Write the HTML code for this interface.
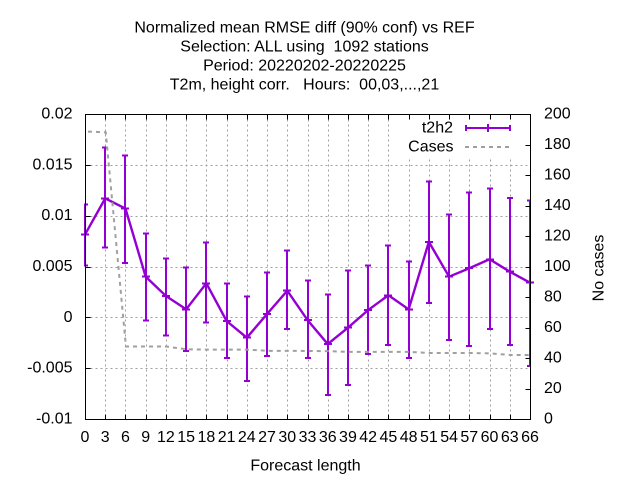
<!DOCTYPE html>
<html>
<head>
<meta charset="utf-8">
<title>Normalized mean RMSE diff</title>
<style>
html,body{margin:0;padding:0;background:#fff;width:640px;height:480px;overflow:hidden}
svg{display:block}
text{font-family:"Liberation Sans",sans-serif;font-size:16px;fill:#000}
</style>
</head>
<body>
<svg id="chart" xmlns="http://www.w3.org/2000/svg" width="640" height="480" viewBox="0 0 640 480">
  <rect x="0" y="0" width="640" height="480" fill="#fff"/>
  <g text-anchor="middle">
    <text x="304.5" y="32.5">Normalized mean RMSE diff (90% conf) vs REF</text>
    <text x="304.5" y="51.5" xml:space="preserve">Selection: ALL using  1092 stations</text>
    <text x="304.5" y="70.5">Period: 20220202-20220225</text>
    <text x="304.5" y="89.5" xml:space="preserve">T2m, height corr.   Hours:  00,03,...,21</text>
  </g>
  <g id="grid"></g>
  <rect x="395" y="115" width="135" height="42" fill="#fff"/>
  <g id="rmse-layer"></g>
  <g id="cases-layer"></g>
  <g id="axes"></g>
  <g>
    <g>
      <text x="453" y="132.5" text-anchor="end">t2h2</text>
      <path d="M466 128H510M466 125V131M510 125V131M488 124V132" stroke="#9400d3" stroke-width="2" fill="none" shape-rendering="crispEdges"/>
    </g>
    <g>
      <text x="453.5" y="151.5" text-anchor="end">Cases</text>
      <path d="M465 147H510" stroke="#a0a0a0" stroke-width="2" stroke-dasharray="4,4" fill="none" shape-rendering="crispEdges"/>
    </g>
  </g>
  <text x="305.5" y="470.5" text-anchor="middle">Forecast length</text>
  <text x="0" y="0" text-anchor="middle" transform="translate(603.5 268) rotate(-90)">No cases</text>
</svg>
<script>
const hours = [0,3,6,9,12,15,18,21,24,27,30,33,36,39,42,45,48,51,54,57,60,63,66];
const meanValues = [0.00814,0.0117,0.0107,0.0040,0.0021,0.00079,0.00335,-0.00036,-0.0020,0.00033,0.00262,-0.00027,-0.00263,-0.00102,0.00072,0.00217,0.00079,0.00742,0.0040,0.00483,0.00571,0.00449,0.00341];
const upperValues = [0.0111,0.0167,0.0159,0.00824,0.00577,0.00489,0.00735,0.00331,0.00203,0.0044,0.00656,0.0036,0.00223,0.0046,0.0051,0.00706,0.00548,0.01336,0.0101,0.01228,0.01267,0.01175,0.01149];
const lowerValues = [0.0051,0.00686,0.00535,-0.00033,-0.0018,-0.0033,-0.00053,-0.0040,-0.00625,-0.0038,-0.00115,-0.0040,-0.00765,-0.00667,-0.0036,-0.00273,-0.0040,0.00141,-0.00224,-0.00283,-0.00115,-0.00273,-0.0048];
const casesValues = [188.5,188,47.5,47.5,47.5,45.7,45.5,45.5,45.5,44.7,44.7,44.6,44.5,44,44,44,44,43.3,43.3,43.3,43,42,42];
const yTickValues = [0.02,0.015,0.01,0.005,0,-0.005,-0.01];
const yTickLabels = ["0.02","0.015","0.01","0.005","0","-0.005","-0.01"];
const y2TickValues = [0,20,40,60,80,100,120,140,160,180,200];

const plotLeft = 85.5, plotRight = 530.5, plotTop = 114.5, plotBottom = 419.5;
const markShift = 0.5;
const svgNS = "http://www.w3.org/2000/svg";
const xMax = 66;
function xScale(h){ return plotLeft + (plotRight - plotLeft) * h / xMax; }
function yScale(v){ return plotBottom - (plotBottom - plotTop) * (v + 0.01) / 0.03; }
function y2Scale(c){ return plotBottom - (plotBottom - plotTop) * c / 200; }
function px(v){ return Math.round(v - 0.5) + 0.5; }

function makeLine(parent, x1, y1, x2, y2, stroke, width, dash){
  const el = document.createElementNS(svgNS, "line");
  el.setAttribute("x1", x1);
  el.setAttribute("y1", y1);
  el.setAttribute("x2", x2);
  el.setAttribute("y2", y2);
  el.setAttribute("stroke", stroke);
  el.setAttribute("stroke-width", width);
  if (dash) el.setAttribute("stroke-dasharray", dash);
  el.setAttribute("shape-rendering", "crispEdges");
  parent.appendChild(el);
  return el;
}
function makeText(parent, x, y, anchor, content){
  const el = document.createElementNS(svgNS, "text");
  el.setAttribute("x", x);
  el.setAttribute("y", y);
  el.setAttribute("text-anchor", anchor);
  el.textContent = content;
  parent.appendChild(el);
  return el;
}
function makePolyline(parent, points, stroke, width, dash){
  const el = document.createElementNS(svgNS, "polyline");
  el.setAttribute("points", points);
  el.setAttribute("fill", "none");
  el.setAttribute("stroke", stroke);
  el.setAttribute("stroke-width", width);
  if (dash) el.setAttribute("stroke-dasharray", dash);
  parent.appendChild(el);
  return el;
}

const gridLayer = document.getElementById("grid");
const axesLayer = document.getElementById("axes");
const casesLayer = document.getElementById("cases-layer");
const rmseLayer = document.getElementById("rmse-layer");
const gridColor = "#a0a0a0";
const gridDash = "2,3";

hours.forEach(function(h){
  const x = px(xScale(h));
  if (h !== 0 && h !== xMax) {
    const g = makeLine(gridLayer, x, plotTop, x, plotBottom, gridColor, 1, gridDash);
    
    
  }
  const bottomTick = makeLine(axesLayer, x, plotBottom, x, plotBottom - 5, "#000", 1);
  
  
  const topTick = makeLine(axesLayer, x, plotTop, x, plotTop + 5, "#000", 1);
  
  
  const label = makeText(axesLayer, xScale(h) - 0.5, 442, "middle", String(h));
  
  
});

yTickValues.forEach(function(v, i){
  const y = px(yScale(v));
  if (i !== 0 && i !== yTickValues.length - 1) {
    const g = makeLine(gridLayer, plotLeft, y, plotRight, y, gridColor, 1, gridDash);
    
    
  }
  const tick = makeLine(axesLayer, plotLeft, y, plotLeft + 5, y, "#000", 1);
  
  
  const label = makeText(axesLayer, 72.5, yScale(v) + 4, "end", yTickLabels[i]);
  
  
});

y2TickValues.forEach(function(c){
  const y = px(y2Scale(c));
  const tick = makeLine(axesLayer, plotRight, y, plotRight - 5, y, "#000", 1);
  
  
  const label = makeText(axesLayer, 544, y2Scale(c) + 4, "start", String(c));
  
  
});

const frame = document.createElementNS(svgNS, "rect");
frame.setAttribute("x", plotLeft);
frame.setAttribute("y", plotTop);
frame.setAttribute("width", plotRight - plotLeft);
frame.setAttribute("height", plotBottom - plotTop);
frame.setAttribute("fill", "none");
frame.setAttribute("stroke", "#000");
frame.setAttribute("stroke-width", "1");
frame.setAttribute("shape-rendering", "crispEdges");


axesLayer.appendChild(frame);

const casesPoints = hours.map(function(h, i){ return xScale(h).toFixed(2) + "," + (y2Scale(casesValues[i]) - markShift).toFixed(2); }).join(" ");
const casesLine = makePolyline(casesLayer, casesPoints, "#a0a0a0", 2, "4,4");
casesLine.setAttribute("stroke-dashoffset", "5.5");



const violet = "#9400d3";
const meanPoints = hours.map(function(h, i){ return (xScale(h) - 0.5).toFixed(2) + "," + (yScale(meanValues[i]) - markShift).toFixed(2); }).join(" ");
const meanLine = makePolyline(rmseLayer, meanPoints, violet, 2.4);



hours.forEach(function(h, i){
  const x = Math.round(xScale(h) - 0.5);
  const yU = yScale(upperValues[i]) - markShift;
  const yL = yScale(lowerValues[i]) - markShift;
  const yM = yScale(meanValues[i]) - markShift;
  const capLeft = Math.max(x - 3, plotLeft - 1.5);
  const capRight = Math.min(x + 3, plotRight + 0.5);
  const bar = makeLine(rmseLayer, x, yU, x, yL, violet, 2);
  
  
  const capU = makeLine(rmseLayer, capLeft, yU, capRight, yU, violet, 2);
  
  
  const capL = makeLine(rmseLayer, capLeft, yL, capRight, yL, violet, 2);
  
  
  const capM = makeLine(rmseLayer, x - 4, yM, x + 4, yM, violet, 2);
  
  
});
</script>
</body>
</html>
